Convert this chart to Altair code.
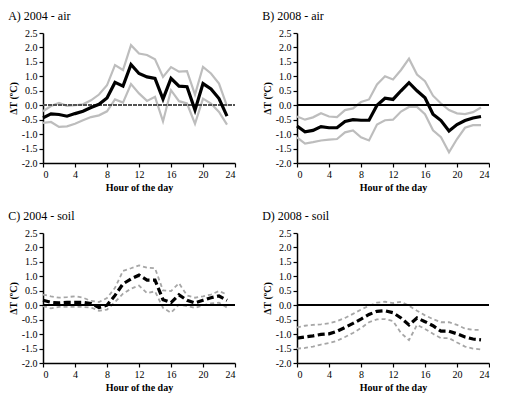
import altair as alt
import pandas as pd

hours = list(range(24))

a_mean = [-0.44, -0.30, -0.32, -0.38, -0.29, -0.21, -0.08, 0.03, 0.25, 0.79, 0.66, 1.41, 1.10, 0.98, 0.93, 0.21, 0.93, 0.66, 0.64, -0.17, 0.75, 0.56, 0.23, -0.38]
a_up = [-0.21, -0.03, 0.08, -0.02, 0.00, 0.03, 0.17, 0.37, 0.69, 1.39, 1.22, 2.08, 1.79, 1.74, 1.59, 0.98, 1.32, 1.16, 1.18, 0.37, 1.33, 1.10, 0.75, -0.03]
a_lo = [-0.61, -0.58, -0.75, -0.73, -0.64, -0.52, -0.41, -0.35, -0.21, 0.20, 0.09, 0.73, 0.41, 0.15, 0.29, -0.56, 0.52, 0.14, 0.06, -0.64, 0.23, 0.06, -0.23, -0.67]

b_mean = [-0.72, -0.92, -0.87, -0.74, -0.78, -0.78, -0.56, -0.50, -0.52, -0.52, 0.00, 0.24, 0.20, 0.50, 0.78, 0.50, 0.26, -0.31, -0.53, -0.89, -0.67, -0.53, -0.44, -0.39]
b_up = [-0.39, -0.50, -0.42, -0.28, -0.39, -0.41, -0.17, -0.11, 0.11, 0.20, 0.72, 1.00, 0.89, 1.22, 1.61, 1.06, 0.83, 0.33, 0.06, -0.17, -0.28, -0.31, -0.24, -0.08]
b_lo = [-1.11, -1.33, -1.28, -1.22, -1.19, -1.17, -0.94, -0.87, -1.11, -1.22, -0.67, -0.52, -0.50, -0.22, -0.06, -0.06, -0.31, -0.87, -1.11, -1.63, -1.17, -0.78, -0.69, -0.69]

c_mean = [0.17, 0.10, 0.08, 0.10, 0.10, 0.10, 0.06, -0.08, 0.00, 0.34, 0.74, 0.91, 1.04, 0.87, 0.87, 0.19, 0.09, 0.36, 0.17, 0.08, 0.17, 0.26, 0.32, 0.17]
c_up = [0.37, 0.31, 0.26, 0.28, 0.31, 0.26, 0.15, 0.11, 0.25, 0.60, 1.19, 1.28, 1.38, 1.30, 1.28, 0.51, 0.49, 0.76, 0.34, 0.26, 0.31, 0.37, 0.49, 0.37]
c_lo = [-0.03, -0.11, -0.06, -0.06, -0.06, -0.06, -0.08, -0.19, -0.15, 0.11, 0.40, 0.57, 0.68, 0.42, 0.48, -0.09, -0.26, 0.02, -0.03, -0.09, 0.00, 0.06, 0.09, -0.08]

d_mean = [-1.14, -1.10, -1.06, -1.01, -0.99, -0.90, -0.77, -0.63, -0.48, -0.32, -0.21, -0.19, -0.26, -0.44, -0.68, -0.44, -0.57, -0.71, -0.90, -0.90, -0.99, -1.10, -1.17, -1.20]
d_up = [-0.77, -0.71, -0.68, -0.66, -0.63, -0.55, -0.44, -0.30, -0.15, -0.02, 0.09, 0.12, 0.07, 0.12, -0.02, -0.19, -0.35, -0.48, -0.59, -0.59, -0.68, -0.81, -0.85, -0.85]
d_lo = [-1.50, -1.48, -1.43, -1.36, -1.31, -1.23, -1.10, -0.96, -0.79, -0.59, -0.49, -0.48, -0.55, -0.96, -1.21, -0.68, -0.82, -0.99, -1.14, -1.14, -1.29, -1.43, -1.50, -1.53]

titles = ["A)  2004 - air", "B)  2008 - air", "C)  2004 - soil", "D)  2008 - soil"]
y_ticks = [-2.0, -1.5, -1.0, -0.5, 0.0, 0.5, 1.0, 1.5, 2.0, 2.5]
x_ticks = [0, 4, 8, 12, 16, 20, 24]

FONT = "Liberation Serif, Times New Roman, serif"
LABEL_EXPR = "replace(format(datum.value, '.1f'), '\u2212', '-')"

ZERO_STYLES = {
    "A": dict(color="#555555", strokeWidth=1, strokeDash=[1.5, 1]),
    "B": dict(color="black", strokeWidth=1),
    "C": dict(color="black", strokeWidth=1.6),
    "D": dict(color="black", strokeWidth=1.6),
}


def panel(mean, up, lo, title, key, w, h):
    soil = key in ("C", "D")
    df = pd.DataFrame({"hour": hours, "mean": mean, "up": up, "lo": lo})
    xaxis = alt.Axis(values=x_ticks, title="Hour of the day", format="d", labelOverlap=False)
    x = alt.X("hour:Q", scale=alt.Scale(domain=[0, 24], nice=False), axis=xaxis)
    yaxis = alt.Axis(values=y_ticks, title="\u0394T (\u00baC)", labelExpr=LABEL_EXPR,
                     labelOverlap=False, tickCount=10)
    yscale = alt.Scale(domain=[-2.0, 2.5], nice=False, zero=False)
    base = alt.Chart(df)
    if soil:
        bound_style = dict(color="#a6a6a6", strokeWidth=1.8, strokeDash=[4, 3])
        mean_style = dict(color="black", strokeWidth=3.2, strokeDash=[7, 3.5])
    else:
        bound_style = dict(color="#bdbdbd", strokeWidth=2.2)
        mean_style = dict(color="black", strokeWidth=3.2)
    up_l = base.mark_line(**bound_style).encode(x=x, y=alt.Y("up:Q", scale=yscale, axis=yaxis))
    lo_l = base.mark_line(**bound_style).encode(x=x, y=alt.Y("lo:Q", scale=yscale, axis=yaxis))
    zero = base.mark_rule(**ZERO_STYLES[key]).encode(
        y=alt.datum(0, scale=yscale, axis=yaxis), x=alt.value(0), x2=alt.value(w))
    mean_l = base.mark_line(**mean_style).encode(x=x, y=alt.Y("mean:Q", scale=yscale, axis=yaxis))
    return alt.layer(up_l, lo_l, zero, mean_l).properties(
        width=w, height=h,
        title=alt.TitleParams(title, anchor="start", font=FONT, fontSize=12,
                              fontWeight="normal", color="black", offset=5),
    )


pA = panel(a_mean, a_up, a_lo, titles[0], "A", 192, 130)
pB = panel(b_mean, b_up, b_lo, titles[1], "B", 192, 130)
pC = panel(c_mean, c_up, c_lo, titles[2], "C", 192, 130)
pD = panel(d_mean, d_up, d_lo, titles[3], "D", 192, 130)

chart = alt.vconcat(
    alt.hconcat(pA, pB, spacing=26),
    alt.hconcat(pC, pD, spacing=26),
    spacing=18,
).properties(padding={"left": 0, "top": 2, "right": 0, "bottom": 4}).configure_view(
    stroke=None
).configure_axis(
    labelFont=FONT, labelFontSize=10, labelColor="black",
    titleFont=FONT, titleFontSize=10, titleFontWeight="bold", titleColor="black",
    domainColor="black", domainWidth=1.5, tickColor="black", tickWidth=1.2, tickSize=4,
    grid=False, labelPadding=2,
).configure_axisY(titlePadding=3).configure_axisX(titlePadding=3)

chart.save("out.html", embed_options={"renderer": "svg", "actions": False})
